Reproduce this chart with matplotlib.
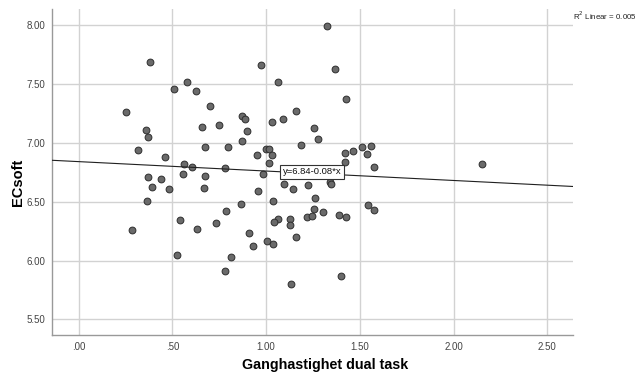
import matplotlib
matplotlib.use("Agg")
import matplotlib.pyplot as plt
import numpy as np

plt.rcParams['font.family'] = ['Liberation Sans', 'DejaVu Sans']

# Ganghastighet dual task (x) and ECsoft (y), one pair per participant
gait_speed = [
    0.382, 0.971, 0.576, 1.065, 0.506, 0.624, 0.699, 0.250, 1.158, 0.870,
    0.886, 1.088, 1.034, 0.660, 0.750, 1.258, 0.361, 0.896, 0.371, 1.276,
    0.870, 0.672, 0.796, 1.185, 0.318, 0.998, 1.017, 0.950, 1.033, 0.462,
    1.013, 0.560, 0.603, 0.781, 0.558, 0.370, 0.438, 0.674, 0.982, 1.098,
    1.146, 1.221, 0.393, 0.481, 0.670, 0.958, 0.366, 1.038, 1.262, 0.865,
    0.786, 1.257, 1.302, 0.284, 0.539, 0.733, 0.632, 1.061, 1.043, 1.125,
    1.125, 1.216, 1.247, 0.911, 0.929, 1.161, 1.006, 1.035, 0.523, 0.813,
    0.782, 1.134, 1.323, 1.367, 1.427, 1.422, 1.465, 1.511, 1.560, 1.537,
    1.423, 1.578, 2.154, 1.341, 1.346, 1.390, 1.427, 1.542, 1.573, 1.400,
]
ec_soft = [
    7.686, 7.663, 7.519, 7.518, 7.457, 7.441, 7.311, 7.263, 7.274, 7.230,
    7.204, 7.199, 7.177, 7.136, 7.149, 7.128, 7.106, 7.104, 7.049, 7.028,
    7.017, 6.967, 6.960, 6.979, 6.939, 6.949, 6.949, 6.898, 6.898, 6.881,
    6.827, 6.823, 6.793, 6.788, 6.735, 6.711, 6.693, 6.714, 6.733, 6.654,
    6.608, 6.640, 6.625, 6.604, 6.612, 6.591, 6.504, 6.502, 6.527, 6.480,
    6.421, 6.441, 6.413, 6.258, 6.342, 6.315, 6.264, 6.355, 6.329, 6.357,
    6.302, 6.368, 6.381, 6.232, 6.126, 6.198, 6.166, 6.143, 6.048, 6.033,
    5.913, 5.799, 7.994, 7.626, 7.368, 6.911, 6.933, 6.962, 6.975, 6.903,
    6.833, 6.792, 6.817, 6.667, 6.654, 6.389, 6.370, 6.469, 6.430, 5.865,
]

# Linear fit as reported
fit_intercept = 6.84
fit_slope = -0.08
r_squared = 0.005

x_ticks = [0.0, 0.5, 1.0, 1.5, 2.0, 2.5]
x_tick_labels = ['.00', '.50', '1.00', '1.50', '2.00', '2.50']
y_ticks = [5.5, 6.0, 6.5, 7.0, 7.5, 8.0]
y_tick_labels = ['5.50', '6.00', '6.50', '7.00', '7.50', '8.00']

fig = plt.figure(figsize=(6.39, 3.78), dpi=100)
ax = fig.add_axes([0.0818, 0.1138, 0.8154, 0.8624])

xmin, xmax = -0.141, 2.639
ymin, ymax = 5.368, 8.136
ax.set_xlim(xmin, xmax)
ax.set_ylim(ymin, ymax)

ax.set_xticks(x_ticks)
ax.set_xticklabels(x_tick_labels)
ax.set_yticks(y_ticks)
ax.set_yticklabels(y_tick_labels)
ax.tick_params(length=0, labelsize=7, colors='#444444', pad=5)

ax.grid(True, color='#d2d2d2', linewidth=1.0)
ax.set_axisbelow(True)
for side in ('top', 'right'):
    ax.spines[side].set_visible(False)
for side in ('left', 'bottom'):
    ax.spines[side].set_color('#999999')
    ax.spines[side].set_linewidth(1.0)

ax.scatter(gait_speed, ec_soft, s=24, facecolor='#6a6a6a', edgecolor='#2e2e2e',
           linewidth=0.7, zorder=3)

line_x = np.array([xmin, xmax])
ax.plot(line_x, fit_intercept + fit_slope * line_x, color='#202020',
        linewidth=0.8, zorder=4)

label_x = 1.09
ax.text(label_x, fit_intercept + fit_slope * label_x, 'y=6.84-0.08*x',
        fontsize=6.8, ha='left', va='center', color='#111111', zorder=5,
        bbox=dict(boxstyle='square,pad=0.28', facecolor='white',
                  edgecolor='#333333', linewidth=0.8))

fig.text(0.996, 0.958, 'R$^2$ Linear = %.3f' % r_squared, fontsize=5.7,
         ha='right', va='center', color='#222222')

fig.text(0.509, 0.034, 'Ganghastighet dual task', fontsize=10.3,
         fontweight='bold', ha='center', va='center')
fig.text(0.028, 0.517, 'ECsoft', fontsize=10.5, fontweight='bold',
         rotation=90, ha='center', va='center')

fig.savefig('out.png', dpi=100)
